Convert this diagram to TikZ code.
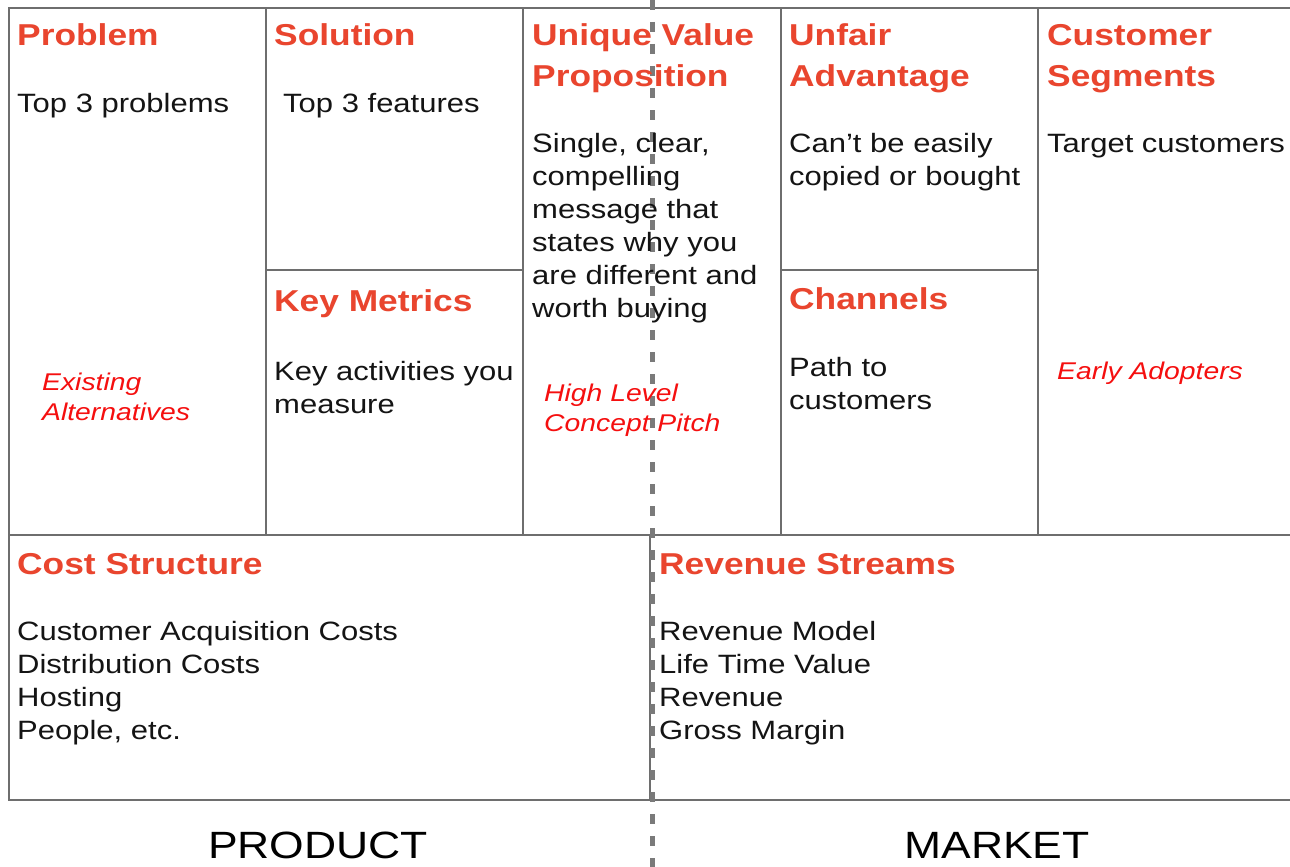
\documentclass[tikz,border=0pt]{standalone}
\usepackage{fontspec}
\setmainfont[FakeStretch=1.17]{Liberation Sans}
\newcommand{\mlines}[1]{\begin{tabular}[t]{@{}l@{}}#1\end{tabular}}
\definecolor{headred}{HTML}{E9452E}
\definecolor{itred}{HTML}{F50F0F}
\definecolor{gridgray}{HTML}{6E6E6E}
\definecolor{dashgray}{HTML}{7A7A7A}
\definecolor{bodyblack}{HTML}{141414}
\begin{document}
\begin{tikzpicture}[x=1pt,y=-1pt,
  grid/.style={draw=gridgray,line width=2.5pt},
  divider/.style={draw=dashgray,line width=5pt,dash pattern=on 10pt off 12pt},
  head/.style={anchor=base west,inner sep=0pt,text=headred,font=\fontsize{30.2}{40}\selectfont\bfseries},
  body/.style={anchor=base west,inner sep=0pt,text=bodyblack,font=\fontsize{26.5}{33}\selectfont},
  note/.style={anchor=base west,inner sep=0pt,text=itred,font=\fontsize{24.2}{30.5}\selectfont\itshape},
  side/.style={anchor=base,inner sep=0pt,text=black,font=\fontsize{38}{40}\selectfont}]
\useasboundingbox (0,0) rectangle (1290,867);
\fill[white] (0,0) rectangle (1290,867);
% grid
\draw[grid] (1290,8) -- (9,8) -- (9,800) -- (1290,800);
\draw[grid] (9,535) -- (1290,535);
\foreach \x in {266,523,781,1038} \draw[grid] (\x,8) -- (\x,535);
\draw[grid] (266,270) -- (523,270);
\draw[grid] (781,270) -- (1038,270);
\draw[grid] (650,535) -- (650,800);
% product / market divider
\coordinate (dtop) at (652,0);
\coordinate (dbot) at (652,867);
\draw[divider] (dtop) -- (dbot);
% headings
\node[head] (hprob) at (17,46) {Problem};
\node[head] (hsol) at (274,46) {Solution};
\node[head] (huvp) at (532,46) {\mlines{Unique Value\\Proposition}};
\node[head] (hunf) at (789,46) {\mlines{Unfair\\Advantage}};
\node[head] (hcust) at (1047,46) {\mlines{Customer\\Segments}};
\node[head] (hkey) at (274,311) {Key Metrics};
\node[head] (hchan) at (789,309) {Channels};
\node[head] (hcost) at (17,574) {Cost Structure};
\node[head] (hrev) at (659,574) {Revenue Streams};
% body texts
\node[body] (bprob) at (17,112) {Top 3 problems};
\node[body] (bsol) at (283,112) {Top 3 features};
\node[body] (buvp) at (532,152) {\mlines{Single, clear,\\compelling\\message that\\states why you\\are different and\\worth buying}};
\node[body] (bunf) at (789,152) {\mlines{Can’t be easily\\copied or bought}};
\node[body] (bcust) at (1047,152) {Target customers};
\node[body] (bkey) at (274,380) {\mlines{Key activities you\\measure}};
\node[body] (bchan) at (789,376) {\mlines{Path to\\customers}};
\node[body] (bcost) at (17,640) {\mlines{Customer Acquisition Costs\\Distribution Costs\\Hosting\\People, etc.}};
\node[body] (brev) at (659,640) {\mlines{Revenue Model\\Life Time Value\\Revenue\\Gross Margin}};
% red notes
\node[note] (nalt) at (42,390) {\mlines{Existing\\Alternatives}};
\node[note] (npitch) at (544,401) {\mlines{High Level\\Concept Pitch}};
\node[note] (nearly) at (1057,379) {Early Adopters};
% side labels
\node[side] (lprod) at (318,858) {PRODUCT};
\node[side] (lmark) at (997,858) {MARKET};
\end{tikzpicture}
\end{document}
